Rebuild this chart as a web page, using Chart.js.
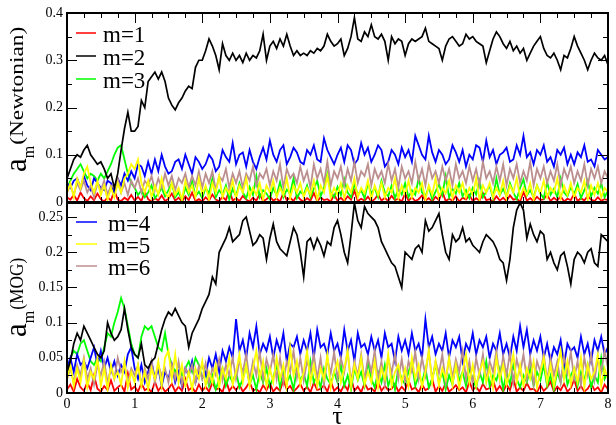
<!DOCTYPE html>
<html>
<head>
<meta charset="utf-8">
<script src="https://cdn.jsdelivr.net/npm/chart.js@4.4.0/dist/chart.umd.min.js"></script>
<style>
  body { margin: 0; background: #fff; }
  #quadro { position: relative; width: 616px; height: 425px; }
  canvas { position: absolute; left: 0; top: 0; }
</style>
</head>
<body>
<div id="quadro">
  <canvas id="grafico-newton" width="616" height="425"></canvas>
  <canvas id="grafico-mog" width="616" height="425"></canvas>
</div>
<script>
// eixo do tempo: amostras a cada 0.05 de 0 a 8
const tau = [];
for (let i = 0; i <= 160; i++) tau.push(+(i * 0.05).toFixed(2));

const tickX = [0, 1, 2, 3, 4, 5, 6, 7, 8];
const tickYNewton = [0, 0.1, 0.2, 0.3, 0.4];
const tickYMog = [0, 0.05, 0.1, 0.15, 0.2, 0.25];

const rotulos = ['m=1', 'm=2', 'm=3', 'm=4', 'm=5', 'm=6'];

// painel de cima (Newtonian)
const newtonM1 = [0.01,0.005,0.015,0.003,0.02,0.008,0.002,0.012,0.004,0.018,
  0.006,0.001,0.01,0.003,0.025,0.005,0.002,0.009,0.004,0.015,
  0.003,0.011,0.002,0.022,0.006,0.001,0.008,0.003,0.014,0.002,
  0.007,0.018,0.003,0.009,0.001,0.012,0.004,0.02,0.002,0.006,
  0.001,0.01,0.003,0.016,0.005,0.002,0.011,0.004,0.025,0.003,
  0.008,0.002,0.013,0.005,0.001,0.009,0.003,0.017,0.002,0.006,
  0.012,0.003,0.007,0.001,0.02,0.004,0.009,0.002,0.014,0.005,
  0.001,0.008,0.003,0.019,0.002,0.01,0.004,0.006,0.001,0.015,
  0.003,0.009,0.002,0.012,0.005,0.024,0.002,0.007,0.003,0.011,
  0.001,0.006,0.016,0.003,0.009,0.002,0.013,0.004,0.007,0.001,
  0.018,0.003,0.01,0.002,0.006,0.014,0.003,0.008,0.001,0.011,
  0.004,0.022,0.002,0.007,0.003,0.012,0.001,0.009,0.005,0.015,
  0.002,0.008,0.003,0.019,0.004,0.006,0.001,0.012,0.003,0.009,
  0.002,0.014,0.005,0.007,0.001,0.021,0.003,0.008,0.002,0.011,
  0.004,0.006,0.016,0.002,0.009,0.003,0.012,0.001,0.007,0.004,
  0.018,0.002,0.008,0.003,0.013,0.005,0.002,0.01,0.003,0.006,
  0.004];
const newtonM2 = [0.05,0.07,0.09,0.1,0.095,0.11,0.12,0.1,0.09,0.08,
  0.085,0.07,0.05,0.06,0.03,0.06,0.11,0.155,0.19,0.15,
  0.15,0.16,0.215,0.2,0.255,0.265,0.275,0.26,0.275,0.255,
  0.22,0.205,0.195,0.21,0.22,0.235,0.245,0.24,0.285,0.3,
  0.3,0.32,0.345,0.33,0.31,0.28,0.335,0.31,0.3,0.315,
  0.3,0.31,0.295,0.315,0.3,0.31,0.305,0.32,0.355,0.3,
  0.33,0.34,0.325,0.345,0.33,0.355,0.33,0.31,0.32,0.31,
  0.315,0.31,0.32,0.315,0.325,0.32,0.33,0.355,0.34,0.33,
  0.335,0.345,0.31,0.325,0.35,0.39,0.345,0.34,0.36,0.35,
  0.375,0.35,0.345,0.355,0.34,0.3,0.35,0.335,0.345,0.34,
  0.31,0.335,0.345,0.34,0.345,0.35,0.368,0.34,0.335,0.33,
  0.325,0.3,0.33,0.345,0.35,0.34,0.33,0.335,0.355,0.345,
  0.35,0.34,0.335,0.33,0.295,0.32,0.345,0.36,0.35,0.335,
  0.325,0.34,0.32,0.33,0.315,0.325,0.3,0.315,0.33,0.34,
  0.35,0.325,0.31,0.305,0.315,0.3,0.28,0.31,0.305,0.325,
  0.35,0.33,0.315,0.3,0.28,0.3,0.315,0.305,0.3,0.31,
  0.29];
const newtonM3 = [0.03,0.045,0.06,0.07,0.08,0.065,0.05,0.06,0.055,0.045,
  0.06,0.05,0.065,0.08,0.1,0.115,0.12,0.09,0.06,0.04,
  0.03,0.015,0.025,0.01,0.02,0.035,0.008,0.018,0.03,0.012,
  0.025,0.04,0.01,0.02,0.005,0.03,0.015,0.045,0.012,0.022,
  0.008,0.03,0.018,0.05,0.01,0.025,0.015,0.035,0.005,0.028,
  0.012,0.04,0.02,0.008,0.032,0.015,0.055,0.01,0.025,0.018,
  0.006,0.03,0.014,0.042,0.01,0.026,0.018,0.05,0.008,0.022,
  0.015,0.035,0.01,0.028,0.045,0.012,0.03,0.06,0.02,0.01,
  0.032,0.015,0.048,0.02,0.01,0.038,0.015,0.025,0.008,0.04,
  0.018,0.03,0.01,0.045,0.02,0.012,0.035,0.008,0.028,0.016,
  0.04,0.01,0.025,0.015,0.05,0.02,0.012,0.032,0.006,0.022,
  0.038,0.015,0.055,0.01,0.028,0.018,0.04,0.012,0.025,0.008,
  0.03,0.016,0.045,0.01,0.022,0.035,0.008,0.05,0.015,0.028,
  0.012,0.04,0.02,0.006,0.03,0.048,0.014,0.025,0.01,0.035,
  0.018,0.008,0.042,0.015,0.028,0.01,0.05,0.02,0.012,0.032,
  0.016,0.038,0.008,0.025,0.045,0.012,0.03,0.018,0.04,0.01,
  0.025];
const newtonM4 = [0.04,0.03,0.045,0.05,0.03,0.055,0.035,0.025,0.05,0.04,
  0.03,0.025,0.045,0.04,0.02,0.05,0.035,0.06,0.045,0.065,
  0.05,0.08,0.075,0.055,0.085,0.06,0.09,0.065,0.1,0.075,
  0.06,0.065,0.085,0.09,0.07,0.1,0.08,0.06,0.095,0.085,
  0.07,0.08,0.1,0.09,0.065,0.075,0.11,0.095,0.085,0.125,
  0.08,0.1,0.105,0.075,0.11,0.085,0.07,0.095,0.115,0.09,
  0.13,0.1,0.085,0.11,0.12,0.08,0.095,0.115,0.105,0.085,
  0.08,0.11,0.1,0.12,0.09,0.085,0.135,0.11,0.095,0.08,
  0.1,0.115,0.085,0.12,0.11,0.08,0.09,0.125,0.1,0.115,
  0.085,0.1,0.12,0.11,0.075,0.085,0.11,0.1,0.08,0.115,
  0.095,0.11,0.085,0.14,0.12,0.1,0.09,0.14,0.105,0.085,
  0.11,0.1,0.08,0.09,0.12,0.105,0.085,0.11,0.075,0.1,
  0.09,0.12,0.115,0.085,0.13,0.095,0.11,0.08,0.1,0.105,
  0.115,0.085,0.09,0.12,0.1,0.14,0.095,0.105,0.08,0.11,
  0.1,0.12,0.085,0.095,0.075,0.11,0.1,0.115,0.08,0.1,
  0.08,0.105,0.095,0.12,0.085,0.09,0.075,0.11,0.1,0.09,
  0.095];
const newtonM5 = [0.02,0.04,0.01,0.05,0.03,0.06,0.075,0.04,0.02,0.045,
  0.015,0.035,0.005,0.03,0.01,0.04,0.02,0.05,0.06,0.08,
  0.07,0.09,0.04,0.02,0.045,0.01,0.035,0.015,0.05,0.02,
  0.008,0.04,0.015,0.03,0.005,0.045,0.02,0.035,0.01,0.05,
  0.015,0.035,0.005,0.04,0.02,0.055,0.01,0.03,0.018,0.045,
  0.008,0.035,0.02,0.05,0.01,0.03,0.015,0.04,0.005,0.035,
  0.02,0.045,0.01,0.03,0.015,0.05,0.008,0.035,0.02,0.04,
  0.01,0.03,0.015,0.045,0.005,0.035,0.02,0.055,0.01,0.03,
  0.015,0.04,0.008,0.035,0.02,0.05,0.01,0.03,0.018,0.045,
  0.005,0.035,0.015,0.04,0.01,0.03,0.02,0.05,0.008,0.035,
  0.015,0.045,0.01,0.03,0.02,0.04,0.005,0.035,0.015,0.05,
  0.01,0.03,0.018,0.045,0.008,0.035,0.02,0.04,0.01,0.03,
  0.015,0.05,0.005,0.035,0.02,0.04,0.01,0.03,0.015,0.045,
  0.008,0.035,0.02,0.05,0.01,0.03,0.015,0.04,0.005,0.035,
  0.018,0.045,0.01,0.03,0.02,0.05,0.008,0.035,0.015,0.04,
  0.01,0.03,0.02,0.045,0.005,0.035,0.015,0.04,0.01,0.03,
  0.02];
const newtonM6 = [0.02,0.035,0.015,0.04,0.025,0.045,0.02,0.035,0.01,0.04,
  0.025,0.045,0.015,0.035,0.03,0.05,0.02,0.04,0.015,0.045,
  0.03,0.05,0.02,0.045,0.035,0.055,0.025,0.05,0.03,0.06,
  0.035,0.055,0.025,0.05,0.04,0.06,0.03,0.055,0.035,0.065,
  0.03,0.06,0.04,0.065,0.025,0.055,0.045,0.07,0.03,0.06,
  0.04,0.065,0.03,0.06,0.045,0.075,0.035,0.06,0.05,0.07,
  0.035,0.065,0.045,0.08,0.03,0.07,0.05,0.06,0.04,0.075,
  0.045,0.065,0.03,0.08,0.05,0.07,0.04,0.085,0.035,0.065,
  0.05,0.075,0.035,0.07,0.045,0.085,0.04,0.065,0.055,0.08,
  0.035,0.07,0.05,0.065,0.04,0.08,0.045,0.07,0.03,0.075,
  0.05,0.065,0.04,0.085,0.045,0.07,0.035,0.08,0.05,0.065,
  0.04,0.075,0.045,0.07,0.035,0.08,0.05,0.065,0.04,0.075,
  0.045,0.07,0.035,0.085,0.05,0.065,0.04,0.075,0.045,0.08,
  0.035,0.07,0.05,0.08,0.04,0.065,0.045,0.085,0.035,0.07,
  0.05,0.075,0.04,0.065,0.045,0.08,0.035,0.07,0.05,0.075,
  0.04,0.065,0.045,0.08,0.035,0.07,0.05,0.075,0.04,0.065,
  0.05];

// painel de baixo (MOG)
const mogM1 = [0.005,0.012,0.002,0.02,0.008,0.003,0.015,0.004,0.025,0.006,
  0.002,0.01,0.004,0.018,0.003,0.008,0.012,0.002,0.028,0.005,
  0.009,0.002,0.014,0.004,0.007,0.001,0.016,0.003,0.01,0.002,
  0.006,0.013,0.002,0.009,0.003,0.02,0.004,0.008,0.001,0.012,
  0.003,0.009,0.002,0.015,0.005,0.007,0.001,0.018,0.003,0.01,
  0.004,0.012,0.002,0.008,0.016,0.003,0.006,0.001,0.011,0.004,
  0.014,0.002,0.008,0.003,0.019,0.005,0.01,0.002,0.007,0.013,
  0.003,0.009,0.001,0.015,0.004,0.006,0.011,0.002,0.017,0.003,
  0.008,0.002,0.012,0.004,0.022,0.003,0.009,0.001,0.014,0.005,
  0.007,0.002,0.016,0.003,0.01,0.004,0.006,0.013,0.002,0.009,
  0.003,0.018,0.005,0.008,0.001,0.012,0.004,0.007,0.02,0.002,
  0.01,0.003,0.014,0.002,0.006,0.011,0.004,0.008,0.001,0.016,
  0.004,0.009,0.002,0.013,0.005,0.007,0.018,0.003,0.01,0.002,
  0.012,0.004,0.021,0.002,0.008,0.003,0.014,0.005,0.006,0.001,
  0.011,0.003,0.008,0.016,0.002,0.009,0.004,0.013,0.002,0.007,
  0.019,0.003,0.01,0.002,0.006,0.014,0.004,0.008,0.001,0.012,
  0.005];
const mogM2 = [0.03,0.045,0.07,0.085,0.075,0.095,0.085,0.075,0.065,0.055,
  0.05,0.06,0.1,0.085,0.075,0.08,0.09,0.12,0.09,0.065,
  0.055,0.05,0.07,0.04,0.035,0.045,0.05,0.07,0.09,0.105,
  0.115,0.11,0.12,0.11,0.1,0.095,0.065,0.085,0.095,0.105,
  0.12,0.13,0.14,0.165,0.155,0.2,0.21,0.22,0.235,0.215,
  0.22,0.225,0.245,0.25,0.23,0.21,0.215,0.225,0.22,0.19,
  0.22,0.24,0.215,0.205,0.2,0.195,0.215,0.235,0.225,0.2,
  0.165,0.215,0.22,0.205,0.22,0.21,0.195,0.215,0.21,0.235,
  0.245,0.225,0.2,0.185,0.225,0.27,0.245,0.235,0.265,0.255,
  0.25,0.245,0.235,0.215,0.205,0.195,0.185,0.18,0.165,0.15,
  0.2,0.195,0.19,0.205,0.21,0.2,0.245,0.23,0.235,0.245,
  0.255,0.225,0.2,0.19,0.225,0.215,0.22,0.235,0.215,0.22,
  0.21,0.205,0.2,0.215,0.225,0.22,0.215,0.205,0.19,0.185,
  0.16,0.19,0.235,0.26,0.27,0.26,0.22,0.24,0.225,0.215,
  0.23,0.225,0.19,0.2,0.185,0.175,0.195,0.2,0.18,0.155,
  0.19,0.2,0.195,0.185,0.2,0.205,0.185,0.18,0.225,0.22,
  0.215];
const mogM3 = [0.03,0.05,0.06,0.055,0.07,0.075,0.06,0.045,0.04,0.05,
  0.045,0.065,0.085,0.08,0.1,0.115,0.135,0.12,0.095,0.07,
  0.055,0.05,0.08,0.095,0.09,0.095,0.08,0.065,0.06,0.085,
  0.055,0.04,0.03,0.04,0.025,0.035,0.045,0.03,0.05,0.04,
  0.02,0.03,0.01,0.025,0.005,0.02,0.035,0.01,0.025,0.015,
  0.03,0.008,0.02,0.04,0.012,0.025,0.005,0.03,0.015,0.035,
  0.01,0.022,0.04,0.008,0.03,0.015,0.025,0.005,0.035,0.018,
  0.028,0.01,0.045,0.015,0.025,0.008,0.035,0.02,0.012,0.03,
  0.015,0.04,0.01,0.025,0.005,0.035,0.018,0.03,0.01,0.045,
  0.02,0.008,0.03,0.015,0.04,0.01,0.025,0.005,0.035,0.02,
  0.012,0.03,0.045,0.01,0.025,0.015,0.035,0.008,0.02,0.04,
  0.015,0.03,0.005,0.025,0.012,0.04,0.018,0.03,0.01,0.035,
  0.02,0.008,0.03,0.015,0.045,0.01,0.025,0.018,0.035,0.005,
  0.03,0.012,0.04,0.02,0.008,0.025,0.015,0.035,0.01,0.03,
  0.018,0.04,0.01,0.025,0.005,0.03,0.015,0.045,0.012,0.025,
  0.035,0.01,0.03,0.018,0.04,0.008,0.025,0.015,0.05,0.02,
  0.03];
const mogM4 = [0.035,0.05,0.03,0.055,0.04,0.045,0.035,0.05,0.065,0.04,
  0.06,0.035,0.05,0.03,0.045,0.025,0.04,0.03,0.055,0.065,
  0.035,0.02,0.04,0.015,0.03,0.045,0.02,0.035,0.01,0.03,
  0.02,0.04,0.015,0.03,0.01,0.035,0.025,0.045,0.015,0.03,
  0.04,0.025,0.05,0.035,0.055,0.03,0.06,0.045,0.065,0.05,
  0.105,0.06,0.075,0.05,0.085,0.065,0.095,0.055,0.07,0.06,
  0.08,0.05,0.075,0.06,0.085,0.045,0.07,0.065,0.08,0.055,
  0.075,0.06,0.085,0.05,0.09,0.065,0.07,0.055,0.085,0.06,
  0.07,0.05,0.09,0.06,0.075,0.045,0.085,0.065,0.07,0.055,
  0.08,0.06,0.075,0.05,0.085,0.065,0.07,0.045,0.08,0.06,
  0.075,0.055,0.085,0.06,0.07,0.05,0.105,0.065,0.08,0.055,
  0.07,0.06,0.085,0.05,0.075,0.065,0.08,0.045,0.07,0.06,
  0.085,0.055,0.075,0.065,0.08,0.05,0.07,0.06,0.085,0.055,
  0.07,0.05,0.08,0.06,0.095,0.065,0.09,0.055,0.075,0.06,
  0.08,0.05,0.07,0.045,0.065,0.055,0.075,0.04,0.07,0.06,
  0.065,0.05,0.08,0.055,0.07,0.045,0.075,0.06,0.08,0.055,
  0.065];
const mogM5 = [0.02,0.04,0.01,0.035,0.015,0.045,0.008,0.03,0.02,0.05,
  0.01,0.035,0.005,0.04,0.02,0.03,0.012,0.045,0.008,0.03,
  0.015,0.04,0.01,0.03,0.005,0.035,0.02,0.045,0.01,0.05,
  0.06,0.02,0.055,0.015,0.04,0.01,0.03,0.005,0.035,0.02,
  0.045,0.01,0.03,0.015,0.04,0.008,0.035,0.02,0.05,0.012,
  0.03,0.055,0.015,0.04,0.01,0.035,0.06,0.02,0.045,0.01,
  0.035,0.015,0.05,0.02,0.04,0.008,0.065,0.025,0.045,0.012,
  0.03,0.06,0.015,0.04,0.01,0.035,0.02,0.055,0.008,0.03,
  0.045,0.015,0.035,0.06,0.01,0.04,0.02,0.05,0.012,0.03,
  0.015,0.045,0.008,0.035,0.02,0.055,0.01,0.03,0.04,0.015,
  0.035,0.01,0.05,0.02,0.04,0.008,0.03,0.06,0.015,0.045,
  0.01,0.035,0.02,0.05,0.012,0.04,0.008,0.03,0.055,0.015,
  0.04,0.01,0.03,0.045,0.015,0.035,0.008,0.05,0.02,0.04,
  0.012,0.03,0.055,0.015,0.04,0.01,0.035,0.02,0.045,0.008,
  0.03,0.05,0.015,0.04,0.01,0.035,0.06,0.02,0.045,0.012,
  0.035,0.015,0.05,0.008,0.04,0.02,0.03,0.055,0.01,0.035,
  0.02];
const mogM6 = [0.02,0.035,0.015,0.04,0.025,0.05,0.02,0.035,0.012,0.04,
  0.025,0.045,0.015,0.035,0.02,0.05,0.03,0.04,0.015,0.035,
  0.025,0.04,0.012,0.035,0.02,0.045,0.015,0.04,0.025,0.035,
  0.015,0.04,0.02,0.045,0.012,0.035,0.025,0.04,0.015,0.038,
  0.02,0.042,0.015,0.035,0.025,0.048,0.018,0.04,0.025,0.05,
  0.02,0.045,0.03,0.055,0.018,0.045,0.025,0.058,0.02,0.048,
  0.03,0.055,0.02,0.05,0.015,0.045,0.03,0.06,0.022,0.05,
  0.018,0.045,0.03,0.055,0.02,0.05,0.012,0.048,0.028,0.058,
  0.02,0.05,0.03,0.06,0.015,0.045,0.025,0.055,0.018,0.05,
  0.03,0.06,0.02,0.045,0.012,0.05,0.028,0.055,0.02,0.048,
  0.015,0.045,0.03,0.058,0.02,0.05,0.025,0.06,0.018,0.045,
  0.028,0.055,0.015,0.05,0.022,0.048,0.03,0.06,0.02,0.045,
  0.012,0.05,0.025,0.055,0.018,0.045,0.03,0.06,0.02,0.052,
  0.025,0.058,0.015,0.048,0.028,0.055,0.02,0.05,0.012,0.045,
  0.03,0.055,0.018,0.05,0.025,0.045,0.015,0.052,0.028,0.058,
  0.02,0.045,0.012,0.05,0.025,0.055,0.018,0.048,0.03,0.06,
  0.035];

const cores = ['#ff0000', '#000000', '#00ff00', '#0000ff', '#ffff00', '#bc8f8f'];
// ordem de desenho: menor = por cima
const ordem = [5, 0, 4, 3, 1, 2];
const fonte = "'Liberation Serif', 'Times New Roman', serif";

// moldura com ticks para dentro, legenda e titulo do eixo y
const moldura = {
  id: 'moldura',
  afterDatasetsDraw(chart, args, opts) {
    const ctx = chart.ctx, a = chart.chartArea;
    const x = chart.scales.x, y = chart.scales.y;
    ctx.save();
    ctx.strokeStyle = '#000';
    ctx.lineWidth = 1;
    ctx.beginPath();
    for (let i = 0; i <= 32; i++) {
      const px = Math.round(x.getPixelForValue(i * 0.25)) + 0.5;
      const len = i % 4 === 0 ? 10 : 5;
      ctx.moveTo(px, a.top); ctx.lineTo(px, a.top + len);
      ctx.moveTo(px, a.bottom); ctx.lineTo(px, a.bottom - len);
    }
    for (let v = 0; v <= y.max + 1e-9; v += opts.passo) {
      const py = Math.round(y.getPixelForValue(v)) + 0.5;
      const maior = opts.ticks.some(t => Math.abs(t - v) < 1e-6);
      const len = maior ? 10 : 5;
      ctx.moveTo(a.left, py); ctx.lineTo(a.left + len, py);
      ctx.moveTo(a.right, py); ctx.lineTo(a.right - len, py);
    }
    ctx.stroke();
    ctx.lineWidth = 2;
    ctx.strokeRect(a.left, a.top, a.right - a.left, a.bottom - a.top);

    // legenda
    ctx.font = '23px ' + fonte;
    ctx.fillStyle = '#000';
    opts.legenda.forEach((idx, k) => {
      const ds = chart.data.datasets[idx];
      const ly = opts.legY + k * opts.legPasso;
      ctx.strokeStyle = ds.borderColor;
      ctx.lineWidth = 1.5;
      ctx.beginPath(); ctx.moveTo(opts.linhaX[0], ly); ctx.lineTo(opts.linhaX[1], ly); ctx.stroke();
      ctx.fillText(ds.label, opts.textoX, ly + 9);
    });

    if (opts.tau) {
      ctx.font = '26px ' + fonte;
      ctx.textAlign = 'center';
      ctx.fillText('\u03c4', x.getPixelForValue(4), 424);
      ctx.textAlign = 'left';
    }

    // titulo do eixo y: a_m(...)
    ctx.translate(26, opts.base);
    ctx.rotate(-Math.PI / 2);
    ctx.font = '31px ' + fonte;
    ctx.fillText('a', 0, 0);
    const wa = ctx.measureText('a').width;
    ctx.font = '16px ' + fonte;
    ctx.fillText('m', wa, 8);
    const wm = ctx.measureText('m').width;
    ctx.font = '18px ' + fonte;
    const w = ctx.measureText(opts.titulo).width;
    ctx.translate(wa + wm + 1, -3);
    ctx.scale(opts.largura / w, 1);
    ctx.fillText(opts.titulo, 0, 0);
    ctx.restore();
  }
};

function painel(id, valores, yMax, ticksY, cfg) {
  const datasets = valores.map((serie, i) => ({
    label: rotulos[i],
    data: serie.map((v, k) => ({ x: tau[k], y: v })),
    borderColor: cores[i],
    borderWidth: i === 1 ? 1.7 : 1.8,
    pointRadius: 0,
    tension: 0,
    order: ordem[i]
  }));

  new Chart(document.querySelector(id), {
    type: 'line',
    data: { datasets },
    options: {
      responsive: false,
      animation: false,
      layout: { padding: cfg.padding },
      plugins: {
        legend: { display: false },
        tooltip: { enabled: false },
        moldura: cfg.moldura
      },
      scales: {
        x: {
          type: 'linear', min: 0, max: 8,
          display: cfg.mostraX,
          grid: { display: false, drawTicks: false },
          border: { display: false },
          ticks: { padding: 3, color: '#000', font: { family: fonte, size: 14 } },
          afterBuildTicks: s => { s.ticks = tickX.map(v => ({ value: v })) },
          afterFit: s => { if (cfg.mostraX) s.height = 32 }
        },
        y: {
          type: 'linear', min: 0, max: yMax,
          grid: { display: false, drawTicks: false },
          border: { display: false },
          ticks: {
            padding: 4, color: '#000', font: { family: fonte, size: 14 },
            callback: v => String(+v.toFixed(3))
          },
          afterBuildTicks: s => { s.ticks = ticksY.map(v => ({ value: v })) },
          afterFit: s => { s.width = 67 }
        }
      }
    },
    plugins: [moldura]
  });
}

painel('#grafico-newton',
  [newtonM1, newtonM2, newtonM3, newtonM4, newtonM5, newtonM6],
  0.4, tickYNewton, {
    mostraX: false,
    padding: { left: 0, right: 8, top: 13, bottom: 223 },
    moldura: {
      passo: 0.05, ticks: tickYNewton, legenda: [0, 1, 2],
      legY: 33, legPasso: 23, linhaX: [76, 96], textoX: 103,
      titulo: '(Newtonian)', base: 172, largura: 118, tau: false
    }
  });

painel('#grafico-mog',
  [mogM1, mogM2, mogM3, mogM4, mogM5, mogM6],
  0.27, tickYMog, {
    mostraX: true,
    padding: { left: 0, right: 8, top: 203, bottom: 0 },
    moldura: {
      passo: 0.025, ticks: tickYMog, legenda: [3, 4, 5],
      legY: 222, legPasso: 22, linhaX: [76, 97], textoX: 108,
      titulo: '(MOG)', base: 337, largura: 52, tau: true
    }
  });
</script>
</body>
</html>
